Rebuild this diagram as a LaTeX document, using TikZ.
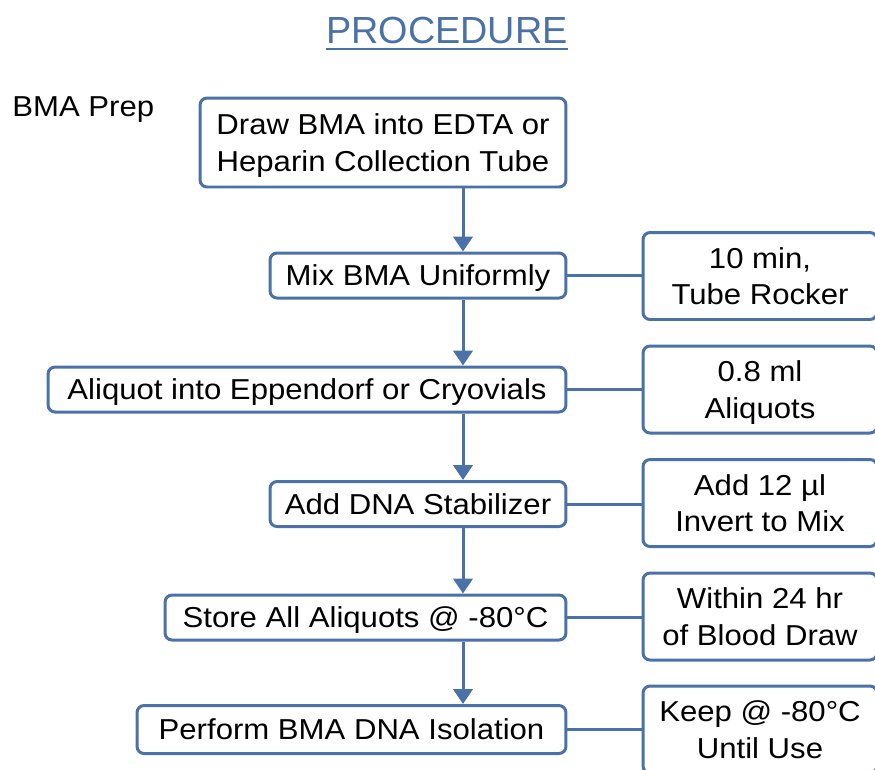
\documentclass[tikz,border=0pt]{standalone}
\usepackage{fontspec}
\setmainfont{Liberation Sans}[FakeStretch=1.08]
\newfontfamily\titlefont{Liberation Sans}
\usetikzlibrary{arrows.meta}
\definecolor{procblue}{RGB}{74,113,168}
\tikzset{
  stepbox/.style={draw=procblue, line width=1.7pt, rounded corners=4pt, fill=white,
    inner sep=0pt, align=center, text depth=0pt, font=\fontsize{16.4}{20.8}\selectfont},
  notebox/.style={stepbox, minimum width=4.68cm, minimum height=1.74cm},
  flow/.style={draw=procblue, line width=1.7pt, -{Triangle[width=11pt,length=8.5pt]}},
  link/.style={draw=procblue, line width=1.7pt}
}
\begin{document}
\begin{tikzpicture}[x=0.02cm, y=-0.02cm]
\clip (0,0) rectangle (875,769);

\node [inner sep=0pt, text=procblue, font=\titlefont\fontsize{21.5}{26}\selectfont] (title) at (447,30) {PROCEDURE};
\draw [procblue, line width=1.3pt] ([yshift=-3.6pt]title.base west) -- ([yshift=-3.6pt]title.base east);
\node [anchor=west, inner sep=0pt, font=\fontsize{16.4}{20.8}\selectfont] (prep) at (12,110) {BMA Prep};

\node [stepbox, minimum width=7.32cm, minimum height=1.78cm] (draw) at (383,142.5) {Draw BMA into EDTA or\\Heparin Collection Tube};
\node [stepbox, minimum width=5.92cm, minimum height=0.9cm] (mix) at (418,275.5) {Mix BMA Uniformly};
\node [stepbox, minimum width=10.36cm, minimum height=0.9cm] (aliquot) at (307,389.5) {Aliquot into Eppendorf or Cryovials};
\node [stepbox, minimum width=5.92cm, minimum height=0.9cm] (stab) at (418,504) {Add DNA Stabilizer};
\node [stepbox, minimum width=8.02cm, minimum height=0.9cm] (store) at (365.5,617.5) {Store All Aliquots @ -80°C};
\node [stepbox, minimum width=8.58cm, minimum height=0.96cm] (isol) at (351.5,729.5) {Perform BMA DNA Isolation};

\node [notebox] (rocker) at (760,276) {10 min,\\Tube Rocker};
\node [notebox] (vol) at (760,389.5) {0.8 ml\\Aliquots};
\node [notebox] (invert) at (760,503) {Add 12 µl\\Invert to Mix};
\node [notebox] (within) at (760,616.5) {Within 24 hr\\of Blood Draw};
\node [notebox] (keep) at (760,729.5) {Keep @ -80°C\\Until Use};

\coordinate (axis) at (463,0);
\draw [flow] (draw.south -| axis) -- (mix.north -| axis);
\draw [flow] (mix.south -| axis) -- (aliquot.north -| axis);
\draw [flow] (aliquot.south -| axis) -- (stab.north -| axis);
\draw [flow] (stab.south -| axis) -- (store.north -| axis);
\draw [flow] (store.south -| axis) -- (isol.north -| axis);

\draw [link] (mix.east) -- (mix.east -| rocker.west);
\draw [link] (aliquot.east) -- (aliquot.east -| vol.west);
\draw [link] (stab.east) -- (stab.east -| invert.west);
\draw [link] (store.east) -- (store.east -| within.west);
\draw [link] (isol.east) -- (isol.east -| keep.west);
\end{tikzpicture}
\end{document}
